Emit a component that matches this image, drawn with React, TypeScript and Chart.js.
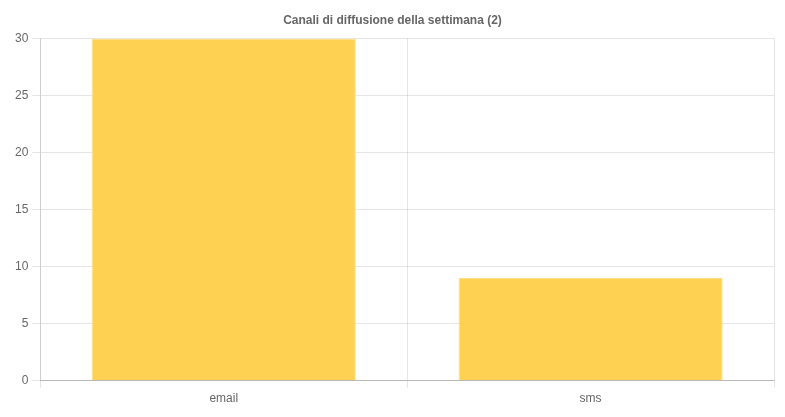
import React, { useEffect, useRef } from "react";
import { Chart, registerables } from "chart.js";

Chart.register(...registerables);

const categories = ["email", "sms"];
const values = [30, 9];
const titleText = "Canali di diffusione della settimana (2)";

export default function App() {
  const ref = useRef<HTMLCanvasElement>(null);
  useEffect(() => {
    document.body.style.margin = "0";
    const chart = new Chart(ref.current!, {
      type: "bar",
      data: {
        labels: categories,
        datasets: [
          {
            label: "Canali",
            data: values,
            backgroundColor: "rgb(255, 209, 82)",
            borderColor: "rgb(255, 221, 130)",
            borderWidth: 1,
          },
        ],
      },
      options: {
        animation: false,
        responsive: false,
        maintainAspectRatio: false,
        layout: { padding: { left: 11, right: 11, top: 6, bottom: 7 } },
        plugins: {
          legend: { display: false },
          tooltip: { enabled: false },
          title: {
            display: true,
            text: titleText,
            color: "#666",
            font: { family: "'Liberation Sans', Arial, sans-serif", size: 12, weight: "bold" },
            padding: { top: 7, bottom: 11 },
          },
        },
        scales: {
          x: {
            grid: { color: "rgba(0,0,0,0.1)", offset: true, tickLength: 7 },
            border: { color: "rgba(0,0,0,0.2)" },
            ticks: {
              color: "#666",
              padding: 4,
              font: { family: "'Liberation Sans', Arial, sans-serif", size: 12 },
            },
          },
          y: {
            min: 0,
            max: 30,
            grid: { color: "rgba(0,0,0,0.1)", tickLength: 8 },
            border: { color: "rgba(0,0,0,0.1)" },
            ticks: {
              stepSize: 5,
              color: "#666",
              padding: 4,
              font: { family: "'Liberation Sans', Arial, sans-serif", size: 12 },
            },
          },
        },
      },
    });
    return () => chart.destroy();
  }, []);
  return <canvas ref={ref} width={785} height={417} style={{ display: "block" }} />;
}
